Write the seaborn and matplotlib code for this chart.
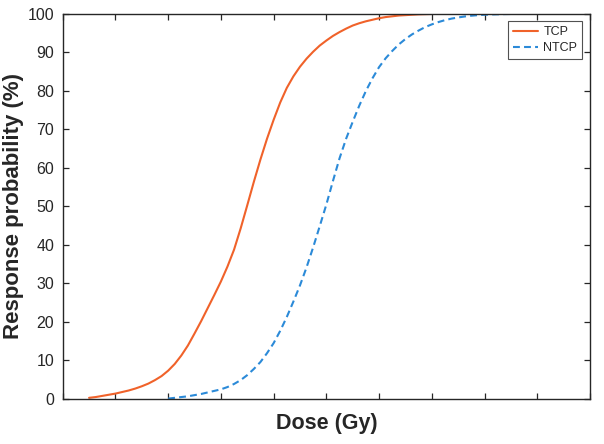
import matplotlib
matplotlib.use("Agg")
import matplotlib.pyplot as plt
import seaborn as sns
import pandas as pd

# ===== 数据（从图上读取，剂量单位为刻度格） =====
tcp_dose = [0.5, 0.625, 0.75, 0.875, 1.0, 1.125, 1.25, 1.375, 1.5, 1.625, 1.75, 1.875,
            2.0, 2.125, 2.25, 2.375, 2.5, 2.625, 2.75, 2.875, 3.0, 3.125, 3.25, 3.375,
            3.5, 3.625, 3.75, 3.875, 4.0, 4.125, 4.25, 4.375, 4.5, 4.625, 4.75, 4.875,
            5.0, 5.125, 5.25, 5.375, 5.5, 5.625, 5.75, 5.875, 6.0, 6.125, 6.25, 6.375,
            6.5, 6.625, 6.75, 6.875, 7.0]
tcp_prob = [0.3, 0.5, 0.8, 1.1, 1.4, 1.8, 2.2, 2.7, 3.3, 4.0, 4.9, 5.95,
            7.35, 9.1, 11.3, 13.9, 17.0, 20.2, 23.6, 27.0, 30.5, 34.4, 38.8, 44.3,
            50.3, 56.4, 62.2, 67.6, 72.5, 77.0, 80.8, 83.8, 86.3, 88.4, 90.2, 91.8,
            93.1, 94.3, 95.3, 96.2, 97.0, 97.6, 98.1, 98.5, 98.9, 99.2, 99.4, 99.6,
            99.7, 99.8, 99.9, 99.95, 100.0]

ntcp_dose = [2.0, 2.125, 2.25, 2.375, 2.5, 2.625, 2.75, 2.875, 3.0, 3.125, 3.25, 3.375,
             3.5, 3.625, 3.75, 3.875, 4.0, 4.125, 4.25, 4.375, 4.5, 4.625, 4.75, 4.875,
             5.0, 5.125, 5.25, 5.375, 5.5, 5.625, 5.75, 5.875, 6.0, 6.125, 6.25, 6.375,
             6.5, 6.625, 6.75, 6.875, 7.0, 7.125, 7.25, 7.375, 7.5, 7.625, 7.75, 7.875,
             8.0, 8.125, 8.25, 8.375, 8.5]
ntcp_prob = [0.1, 0.3, 0.5, 0.7, 1.0, 1.3, 1.7, 2.1, 2.5, 3.1, 3.9, 4.9,
             6.2, 7.8, 9.6, 11.9, 14.5, 17.7, 21.3, 25.3, 29.5, 34.2, 39.4, 44.9,
             50.5, 56.6, 62.5, 67.6, 72.0, 76.2, 80.0, 83.3, 86.2, 88.5, 90.4, 92.1,
             93.5, 94.7, 95.7, 96.6, 97.3, 97.9, 98.4, 98.8, 99.1, 99.35, 99.55, 99.7,
             99.8, 99.87, 99.92, 99.97, 100.0]

x_ticks = [0, 1, 2, 3, 4, 5, 6, 7, 8, 9, 10]
y_ticks = [0, 10, 20, 30, 40, 50, 60, 70, 80, 90, 100]

TCP_COLOR = "#f0622a"
NTCP_COLOR = "#2b8ad8"
AXIS_COLOR = "#262626"

# ===== 绘图 =====
sns.set_theme(style="ticks")
plt.rcParams['font.family'] = ['Liberation Sans', 'DejaVu Sans']

fig = plt.figure(figsize=(6.04, 4.44), dpi=100)
ax = fig.add_axes([0.1038, 0.1014, 0.8730, 0.8671])

tcp_df = pd.DataFrame({"dose": tcp_dose, "prob": tcp_prob})
ntcp_df = pd.DataFrame({"dose": ntcp_dose, "prob": ntcp_prob})

sns.lineplot(data=tcp_df, x="dose", y="prob", ax=ax, color=TCP_COLOR,
             linewidth=1.5, label="TCP")
sns.lineplot(data=ntcp_df, x="dose", y="prob", ax=ax, color=NTCP_COLOR,
             linewidth=1.5, linestyle=(0, (3.3, 2.0)), label="NTCP")

ax.set_xlim(0, 10)
ax.set_ylim(0, 100)
ax.set_xticks(x_ticks)
ax.set_xticklabels([])
ax.set_yticks(y_ticks)
ax.tick_params(axis='both', direction='in', length=4, width=0.9, color=AXIS_COLOR,
               top=True, right=True, labelsize=11.5, labelcolor=AXIS_COLOR, pad=6)

for sp in ax.spines.values():
    sp.set_visible(True)
    sp.set_color(AXIS_COLOR)
    sp.set_linewidth(1.0)

ax.set_xlabel("Dose (Gy)", fontsize=15.5, fontweight='bold', color=AXIS_COLOR, labelpad=4)
ax.set_ylabel("Response probability (%)", fontsize=16, fontweight='bold', color=AXIS_COLOR, labelpad=3)

leg = ax.legend(loc='upper right', fontsize=9, frameon=True, fancybox=False,
                handlelength=2.0, handletextpad=0.4, borderpad=0.4,
                labelspacing=0.3, borderaxespad=0.6)
leg.get_frame().set_edgecolor(AXIS_COLOR)
leg.get_frame().set_linewidth(0.8)

fig.savefig("out.png", dpi=100)
